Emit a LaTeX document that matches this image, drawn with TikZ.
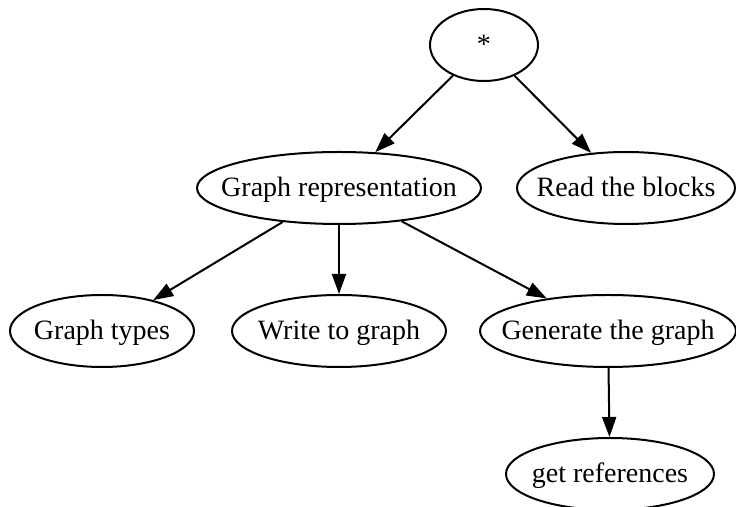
\documentclass[tikz,border=0pt]{standalone}
\usepackage{fontspec}
\setmainfont{Liberation Serif}
\usetikzlibrary{shapes.geometric,arrows.meta}

\tikzset{
  gnode/.style={draw, ellipse, line width=1pt, inner sep=0pt,
    minimum height=36pt, font=\fontsize{14pt}{16pt}\selectfont,
    text height=11pt, text depth=2pt},
  gedge/.style={line width=1pt, -{Triangle[length=10pt,width=7pt]}}
}

\begin{document}
\begin{tikzpicture}[x=0.5pt, y=-0.5pt]
  \useasboundingbox (0,0) rectangle (736,507);

  % tree nodes, widths given by the ellipse radii
  \node[gnode, minimum width=54pt]  (root)  at (484,45)  {\makebox[0pt]{*}};
  \node[gnode, minimum width=142pt] (rep)   at (339,188) {\makebox[0pt]{Graph representation}};
  \node[gnode, minimum width=109pt] (read)  at (626,188) {\makebox[0pt]{Read the blocks}};
  \node[gnode, minimum width=92pt]  (types) at (102,331) {\makebox[0pt]{Graph types}};
  \node[gnode, minimum width=107pt] (write) at (339,331) {\makebox[0pt]{Write to graph}};
  \node[gnode, minimum width=128pt] (gen)   at (608,331) {\makebox[0pt]{Generate the graph}};
  \node[gnode, minimum width=104pt] (refs)  at (610,474) {\makebox[0pt]{get references}};

  % edges
  \draw[gedge] (root) -- (rep);
  \draw[gedge] (root) -- (read);
  \draw[gedge] (rep) -- (types);
  \draw[gedge] (rep) -- (write);
  \draw[gedge] (rep) -- (gen);
  \draw[gedge] (gen) -- (refs);
\end{tikzpicture}
\end{document}
